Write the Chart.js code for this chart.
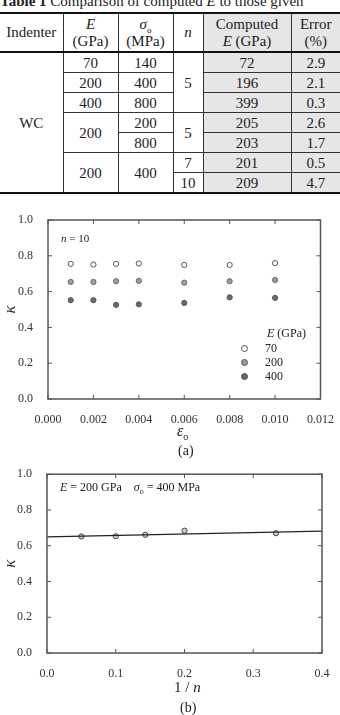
<!DOCTYPE html>
<html>
<head>
<meta charset="utf-8">
<script src="https://cdn.jsdelivr.net/npm/chart.js@4.4.1/dist/chart.umd.min.js"></script>
<style>
  body { margin:0; width:340px; height:715px; overflow:hidden; background:#fff; font-family:"Liberation Serif", serif; color:#222; position:relative; }
  .abs { position:absolute; white-space:nowrap; }
  #title { top:-7px; left:0; font-size:15px; line-height:16px; }
  table { position:absolute; top:12px; left:0; border-collapse:collapse; width:340px; table-layout:fixed; font-size:15px; }
  td, th { text-align:center; font-weight:normal; padding:0; border:1px solid #333; }
  th { height:37px; line-height:17px; }
  td { height:19px; line-height:18px; }
  tr.head th { border-top:2px solid #111; border-bottom:2px solid #111; }
  tr.last td, td.bot { border-bottom:2px solid #111; }
  td:first-child, th:first-child { border-left:none; }
  td.sh, th.sh { background:#e6e6e6; }
  .edge { border-right:none; }
  canvas { position:absolute; left:0; }
  .dot { position:absolute; width:5px; height:5px; border-radius:50%; border:1px solid #555; }
</style>
</head>
<body>
<div id="title" class="abs"><b>Table 1</b> Comparison of computed <i>E</i> to those given</div>
<table>
  <colgroup><col style="width:63px"><col style="width:55px"><col style="width:55px"><col style="width:30px"><col style="width:88px"><col style="width:49px"></colgroup>
  <tr class="head"><th>Indenter</th><th><i>E</i><br>(GPa)</th><th><i>σ</i><sub style="font-size:9px;line-height:0">o</sub><br>(MPa)</th><th><i>n</i></th><th class="sh">Computed<br><i>E</i> (GPa)</th><th class="sh edge">Error<br>(%)</th></tr>
  <tr><td rowspan="7" class="bot">WC</td><td>70</td><td>140</td><td rowspan="3">5</td><td class="sh">72</td><td class="sh edge">2.9</td></tr>
  <tr><td>200</td><td>400</td><td class="sh">196</td><td class="sh edge">2.1</td></tr>
  <tr><td>400</td><td>800</td><td class="sh">399</td><td class="sh edge">0.3</td></tr>
  <tr><td rowspan="2">200</td><td>200</td><td rowspan="2">5</td><td class="sh">205</td><td class="sh edge">2.6</td></tr>
  <tr><td>800</td><td class="sh">203</td><td class="sh edge">1.7</td></tr>
  <tr><td rowspan="2" class="bot">200</td><td rowspan="2" class="bot">400</td><td>7</td><td class="sh">201</td><td class="sh edge">0.5</td></tr>
  <tr class="last"><td>10</td><td class="sh">209</td><td class="sh edge">4.7</td></tr>
</table>

<canvas id="chartA" width="340" height="230" style="top:200px;width:340px;height:230px"></canvas>
<canvas id="chartB" width="340" height="240" style="top:460px;width:340px;height:240px"></canvas>

<div class="abs" style="left:61px;top:232px;font-size:11px"><i>n</i> = 10</div>
<div class="abs" style="left:267px;top:326px;font-size:12px"><i>E</i> (GPa)</div>
<div class="dot" style="left:241px;top:345px;background:#fff"></div>
<div class="abs" style="left:265px;top:341px;font-size:12px">70</div>
<div class="dot" style="left:241px;top:359px;background:#999"></div>
<div class="abs" style="left:265px;top:355px;font-size:12px">200</div>
<div class="dot" style="left:241px;top:373px;background:#666"></div>
<div class="abs" style="left:265px;top:369px;font-size:12px">400</div>
<div class="abs" style="left:177px;top:422px;font-size:16px"><i>ε</i><sub style="font-size:10px">o</sub></div>
<div class="abs" style="left:178px;top:443px;font-size:14px">(a)</div>

<div class="abs" style="left:60px;top:480px;font-size:12px"><i>E</i> = 200 GPa &nbsp;&nbsp; <i>σ</i><sub style="font-size:8px">o</sub> = 400 MPa</div>
<div class="abs" style="left:174px;top:679px;font-size:15px">1 / <i>n</i></div>
<div class="abs" style="left:180px;top:700px;font-size:14px">(b)</div>

<script>
// (a) kappa vs yield strain, n = 10
const epsilon = [0.001, 0.002, 0.003, 0.004, 0.006, 0.008, 0.010];
const kappaE70 = [0.755, 0.751, 0.755, 0.757, 0.749, 0.749, 0.759];
const kappaE200 = [0.654, 0.654, 0.658, 0.660, 0.650, 0.658, 0.665];
const kappaE400 = [0.552, 0.552, 0.526, 0.529, 0.537, 0.568, 0.565];

// (b) kappa vs 1/n, E = 200 GPa, sigma_o = 400 MPa
const invN = [0.05, 0.1, 0.143, 0.2, 0.333];
const kappaN = [0.652, 0.653, 0.661, 0.684, 0.670];
const fitX = [0, 0.4];
const fitK = [0.650, 0.682];

const serif = { family: '"Liberation Serif", serif', size: 12 };
const toPts = (xs, ys) => xs.map((x, i) => ({ x: x, y: ys[i] }));

// frame + inward tick marks on all four sides
const framePlugin = {
    id: 'frame',
    afterDraw(chart) {
        const ctx = chart.ctx, a = chart.chartArea;
        const xs = chart.scales.x, ys = chart.scales.y;
        ctx.save();
        ctx.strokeStyle = '#555';
        ctx.lineWidth = 1.5;
        ctx.strokeRect(a.left, a.top, a.right - a.left, a.bottom - a.top);
        ctx.lineWidth = 1;
        ctx.beginPath();
        xs.ticks.forEach(t => {
            const px = xs.getPixelForValue(t.value);
            ctx.moveTo(px, a.bottom); ctx.lineTo(px, a.bottom - 4);
            ctx.moveTo(px, a.top); ctx.lineTo(px, a.top + 4);
        });
        ys.ticks.forEach(t => {
            const py = ys.getPixelForValue(t.value);
            ctx.moveTo(a.left, py); ctx.lineTo(a.left + 4, py);
            ctx.moveTo(a.right, py); ctx.lineTo(a.right - 4, py);
        });
        ctx.stroke();
        ctx.restore();
    }
};

function yScale(w) {
    return {
        min: 0, max: 1,
        grid: { display: false },
        border: { display: false },
        ticks: { stepSize: 0.2, padding: 7, color: '#333', font: serif, callback: v => v.toFixed(1) },
        title: { display: true, text: 'κ', color: '#333', font: { family: '"Liberation Serif", serif', size: 17, style: 'italic' }, padding: 0 },
        afterFit: s => { s.width = w; }
    };
}

function ptSet(label, data, fill, border) {
    return { label: label, data: data, pointRadius: 2.6, pointHoverRadius: 2.6, pointBorderWidth: 1,
             pointBackgroundColor: fill, pointBorderColor: border, showLine: false };
}

new Chart(document.getElementById('chartA'), {
    type: 'scatter',
    data: {
        datasets: [
            ptSet('70', toPts(epsilon, kappaE70), '#fff', '#555'),
            ptSet('200', toPts(epsilon, kappaE200), '#a0a0a0', '#666'),
            ptSet('400', toPts(epsilon, kappaE400), '#6a6a6a', '#555')
        ]
    },
    options: {
        responsive: false,
        animation: false,
        layout: { padding: { top: 20, right: 19, left: 0, bottom: 0 } },
        plugins: { legend: { display: false }, tooltip: { enabled: false } },
        scales: {
            x: {
                type: 'linear', min: 0, max: 0.012,
                grid: { display: false },
                border: { display: false },
                ticks: { stepSize: 0.002, padding: 6, color: '#333', font: serif, maxRotation: 0, callback: v => v.toFixed(3) },
                afterFit: s => { s.height = 31; }
            },
            y: yScale(48)
        }
    },
    plugins: [framePlugin]
});

new Chart(document.getElementById('chartB'), {
    type: 'scatter',
    data: {
        datasets: [
            { label: 'fit', data: toPts(fitX, fitK), showLine: true, pointRadius: 0, borderColor: '#222', borderWidth: 1.2 },
            ptSet('n', toPts(invN, kappaN), '#d0d0d0', '#444')
        ]
    },
    options: {
        responsive: false,
        animation: false,
        layout: { padding: { top: 9, right: 18, left: 0, bottom: 0 } },
        plugins: { legend: { display: false }, tooltip: { enabled: false } },
        scales: {
            x: {
                type: 'linear', min: 0, max: 0.4,
                grid: { display: false },
                border: { display: false },
                ticks: { stepSize: 0.1, padding: 6, color: '#333', font: serif, maxRotation: 0, callback: v => v.toFixed(1) },
                afterFit: s => { s.height = 47; }
            },
            y: yScale(47)
        }
    },
    plugins: [framePlugin]
});
</script>
</body>
</html>
